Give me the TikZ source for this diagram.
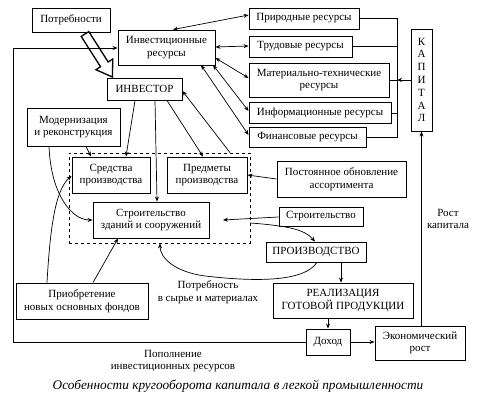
\documentclass[tikz,border=0pt]{standalone}
\usepackage{fontspec}
\setmainfont{Liberation Serif}
\usetikzlibrary{arrows.meta,calc}
\newcommand\bx[6]{\node[box,minimum width={#4-#2},minimum height={#5-#3}] (#1) at ({(#2+#4)/2},{(#3+#5)/2}) {#6};}
\begin{document}
\begin{tikzpicture}[x=1pt,y=-1pt,
  box/.style={draw,line width=0.9pt,inner sep=0.5pt,align=center,font=\fontsize{11}{12.8}\selectfont},
  lbl/.style={align=center,font=\fontsize{11}{12.8}\selectfont,inner sep=0pt},
  >={Stealth[length=5pt,width=4pt]},
  ln/.style={line width=0.7pt},
  dbl/.style={line width=0.7pt,{Stealth[length=5pt,width=4pt]}-{Stealth[length=5pt,width=4pt]}}]
\useasboundingbox (0,0) rectangle (484,409);
% hollow arrow
\begin{scope}[shift={(85,34)},rotate=-57.5]
\draw[line width=1.3pt,fill=white,line join=miter] (0,-4.5) -- (36,-4.5) -- (36,-10) -- (51,0) -- (36,10) -- (36,4.5) -- (0,4.5) -- cycle;
\end{scope}
% boxes
\bx{potr}{32}{8}{110}{32}{Потребности}
\bx{invres}{118}{30}{215}{65}{Инвестиционные\\ресурсы}
\bx{investor}{107}{78}{182}{100}{ИНВЕСТОР}
\bx{modern}{27}{108}{120}{146}{Модернизация\\и реконструкция}
\node[draw,dashed,line width=0.8pt,minimum width=181,minimum height=90,inner sep=0pt] (dash) at (159.5,198) {};
\bx{sredstva}{72}{157}{150}{193}{Средства\\производства}
\bx{predmety}{167}{157}{247}{193}{Предметы\\производства}
\bx{stroyzd}{93}{202}{209}{238}{Строительство\\зданий и сооружений}
\bx{prir}{249}{8}{359}{29}{Природные ресурсы}
\bx{trud}{249}{36}{352}{57}{Трудовые ресурсы}
\bx{mat}{249}{63}{389}{97}{Материально-технические\\ресурсы}
\bx{inf}{249}{102}{391}{123}{Информационные ресурсы}
\bx{fin}{249}{127}{366}{147}{Финансовые ресурсы}
\bx{kap}{411}{29}{432}{131}{К\\А\\П\\И\\Т\\А\\Л}
\bx{postob}{277}{161}{406}{197}{Постоянное обновление\\ассортимента}
\bx{stroy}{279}{207}{363}{226}{Строительство}
\bx{proizv}{266}{242}{366}{262}{ПРОИЗВОДСТВО}
\bx{real}{273}{283}{413}{318}{РЕАЛИЗАЦИЯ\\ГОТОВОЙ ПРОДУКЦИИ}
\bx{dohod}{306}{329}{350}{355}{Доход}
\bx{econ}{375}{326}{465}{360}{Экономический\\рост}
\bx{priob}{16}{283}{148}{319}{Приобретение\\новых основных фондов}
% labels
\node[lbl] (rost) at (448,219) {Рост\\капитала};
\node[lbl] (popoln) at (173,361) {Пополнение\\инвестиционных ресурсов};
\node[lbl] (potrsyr) at (208,292) {Потребность\\в сырье и материалах};
\node[inner sep=0pt,font=\fontsize{13.3}{15}\selectfont\itshape] (caption) at (238,386) {Особенности кругооборота капитала в легкой промышленности};
% coordinates
\coordinate (c1) at (397,18);
\coordinate (c2) at (397,46);
\coordinate (c3) at (397,80);
\coordinate (c4) at (397,113);
\coordinate (c5) at (397,137);
\coordinate (l1) at (13,342);
\coordinate (l2) at (13,48);
% collector
\draw[ln] (prir.east |- c1) -- (c1) -- (c5) -- (fin.east |- c5);
\draw[ln] (trud.east |- c2) -- (c2);
\draw[ln] (inf.east |- c4) -- (c4);
\draw[ln,->] (kap.west |- c3) -- (c3);
\draw[ln] (c3) -- (mat.east |- c3);
\draw[ln,->] (econ.north -| kap) -- (kap.south);
% loop
\draw[ln,->] (dohod.west) -- (l1) -- (l2) -- (invres.west |- l2);
% resource arrows
\draw[dbl] (invres.north -| 173,0) -- (prir.west |- 0,15);
\draw[dbl] (invres.east |- 0,47) -- (trud.west |- 0,46);
\draw[dbl] (invres.east |- 0,58) -- (mat.west |- 0,78);
\draw[dbl] (213,65) -- (inf.west |- 0,111);
\draw[dbl] (201,65) -- (fin.west |- 0,135);
% investor arrows
\draw[ln,->] (investor.south -| 135,0) -- (sredstva.north -| 126,0);
\draw[ln,->] (investor.south -| 155,0) -- (stroyzd.north -| 157,0);
\draw[ln,->] (investor.south -| 167,0) -- (predmety.north -| 203,0);
\draw[ln,->] (dash.north -| 230,0) -- (investor.east |- 0,91);
% modernization
\draw[ln,->] (modern.south -| 86,0) -- (sredstva.north -| 91,0);
\draw[ln,->] (modern.south -| 49,0) .. controls (51,195) and (72,220) .. (stroyzd.west |- 0,220);
% acquisition
\draw[ln,->] (priob.north -| 47,0) .. controls (50,230) and (55,190) .. (sredstva.west |- 0,176);
\draw[ln,->] (priob.north -| 93,0) -- (stroyzd.south -| 118,0);
% right side
\draw[ln,->] (postob.west |- 0,179) -- (predmety.east |- 0,175);
\draw[ln,->] (stroy.west |- 0,217) -- (223,220);
\draw[ln,->] (dash.east |- 0,223) .. controls (290,226) and (305,230) .. (proizv.north -| 315,0);
\draw[ln,->] (proizv.south -| 317,0) .. controls (302,285) and (240,280) .. (205,276) .. controls (175,272) and (160,258) .. (dash.south -| 160,0);
\draw[ln,->] (proizv.south -| 341,0) -- (real.north -| 341,0);
\draw[ln,->] (real.south -| 328,0) -- (dohod.north -| 328,0);
\draw[ln,->] (dohod.east) -- (econ.west |- dohod.east);
\end{tikzpicture}
\end{document}
